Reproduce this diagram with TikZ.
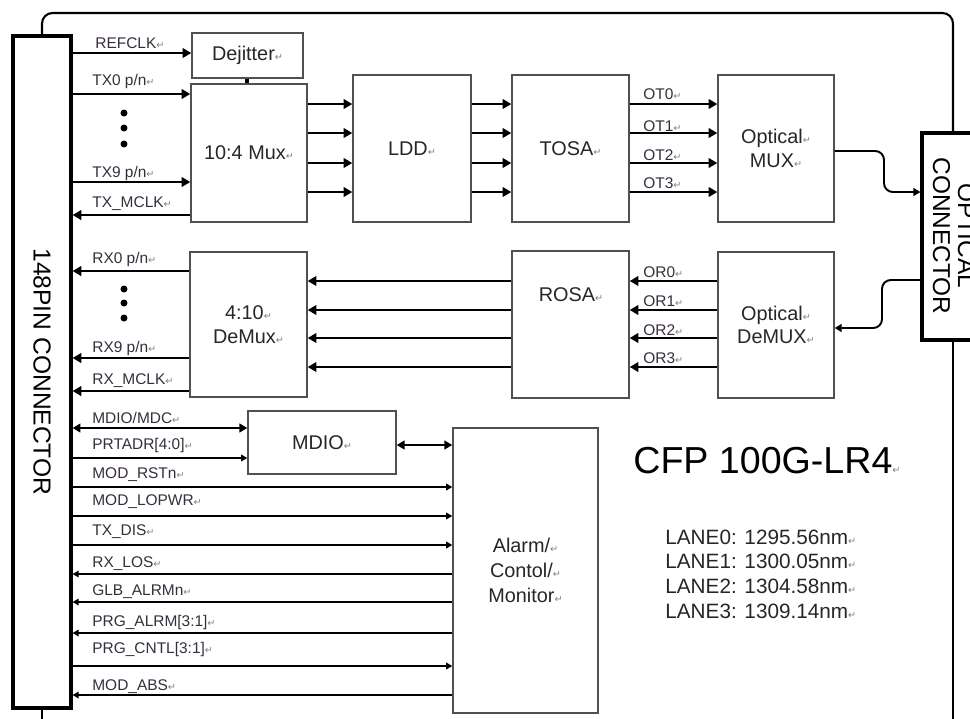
\documentclass[tikz,border=0pt]{standalone}
\usepackage{fontspec}
\setmainfont{Liberation Sans}
\newfontfamily\retfont{DejaVu Sans}
\usepackage{tikz}
\usepackage{xcolor}
\usetikzlibrary{arrows.meta,fit}
\definecolor{boxline}{RGB}{80,80,80}
\definecolor{lbltext}{RGB}{55,45,60}
\newcommand{\enter}{{\retfont\fontsize{5.5}{6}\selectfont\color{black!50}↵}}

\begin{document}
\begin{tikzpicture}[x=0.02cm,y=-0.02cm,
  blk/.style={draw=boxline,line width=0.8pt,inner sep=0pt},
  blktxt/.style={align=center,inner sep=0pt,text=black!85,font=\fontsize{11.3}{13.5}\selectfont},
  conn/.style={draw=black,line width=1.8pt,inner sep=0pt},
  lbl/.style={anchor=base west,inner sep=0pt,text=lbltext,font=\fontsize{8.8}{10}\selectfont},
  sig/.style={line width=1.5pt,-{Triangle[length=5pt,width=5.5pt]}},
  ctl/.style={line width=0.75pt,-{Triangle[length=3.5pt,width=3.8pt]}},
  bus/.style={line width=1.2pt,{Triangle[length=4.5pt,width=5pt]}-{Triangle[length=4.5pt,width=5pt]}},
  fib/.style={line width=1.1pt,rounded corners=5pt,-{Triangle[length=4pt,width=4.5pt]}}]
  \useasboundingbox (0,0) rectangle (970,718);
  \clip (0,0) rectangle (970,718);
  % 连接器
  \node[conn,fit={(13,36)(71,708)}] (pin) {};
  \node[rotate=-90,font=\fontsize{14}{16}\selectfont] (pintxt) at (pin.center) {148PIN CONNECTOR};
  \node[conn,fit={(922,133)(1010,340)}] (opt) {};
  \node[rotate=-90,align=center,font=\fontsize{13.9}{14.2}\selectfont] (opttxt) at (954,236) {OPTICAL\\CONNECTOR};
  % 外框
  \draw[line width=1.2pt,rounded corners=6pt] (pin.north -| 42,0) -- (42,13) -- (953,13) -- (opt.north -| 953,0);
  \draw[line width=1.2pt] (opt.south -| 953,0) -- (953,730);
  \draw[line width=1.2pt] (pin.south -| 42,0) -- (42,730);
  % 功能模块
  \node[blk,fit={(192,33)(303,78)}] (dej) {};
  \node[blk,fit={(191,84)(307,222)}] (mux) {};
  \node[blk,fit={(353,75)(471,222)}] (ldd) {};
  \node[blk,fit={(512,75)(629,222)}] (tosa) {};
  \node[blk,fit={(718,75)(834,222)}] (omux) {};
  \node[blk,fit={(190,252)(307,397)}] (demux) {};
  \node[blk,fit={(512,251)(629,398)}] (rosa) {};
  \node[blk,fit={(718,252)(834,398)}] (odemux) {};
  \node[blk,fit={(248,411)(396,474)}] (mdio) {};
  \node[blk,fit={(453,428)(598,713)}] (acm) {};
  \node[blktxt] (dejtxt) at (dej.center) {Dejitter\enter};
  \node[blktxt] (muxtxt) at (mux.center) {10:4 Mux\enter};
  \node[blktxt] (lddtxt) at (ldd.center) {LDD\enter};
  \node[blktxt] (tosatxt) at (tosa.center) {TOSA\enter};
  \node[blktxt] (omuxtxt) at (omux.center) {Optical\enter\\MUX\enter};
  \node[blktxt] (demuxtxt) at (demux.center) {4:10\enter\\DeMux\enter};
  \node[blktxt] (rosatxt) at (571,295) {ROSA\enter};
  \node[blktxt] (odemuxtxt) at (odemux.center) {Optical\enter\\DeMUX\enter};
  \node[blktxt] (mdiotxt) at (mdio.center) {MDIO\enter};
  \node[blktxt,font=\fontsize{11.3}{14.2}\selectfont] (acmtxt) at (acm.center) {Alarm/\enter\\Contol/\enter\\Monitor\enter};
  \draw[line width=2.2pt] (dej.south -| 247,0) -- (mux.north -| 247,0);
  % 发送通道
  \draw[sig] (pin.east |- 0,53) -- (dej.west |- 0,53);
  \foreach \y in {94,182}
    \draw[sig] (pin.east |- 0,\y) -- (mux.west |- 0,\y);
  \draw[sig] (mux.west |- 0,215) -- (pin.east |- 0,215);
  \foreach \y in {104,133,163,192} {
    \draw[sig] (mux.east |- 0,\y) -- (ldd.west |- 0,\y);
    \draw[sig] (ldd.east |- 0,\y) -- (tosa.west |- 0,\y);
    \draw[sig] (tosa.east |- 0,\y) -- (omux.west |- 0,\y);
  }
  % 接收通道
  \foreach \y in {271,358,391}
    \draw[sig] (demux.west |- 0,\y) -- (pin.east |- 0,\y);
  \foreach \y in {281,310,338,367} {
    \draw[sig] (rosa.west |- 0,\y) -- (demux.east |- 0,\y);
    \draw[sig] (odemux.west |- 0,\y) -- (rosa.east |- 0,\y);
  }
  \foreach \y in {113,128,144,289,303,318}
    \fill (124,\y) circle (3.5);
  % 光纤
  \draw[fib] (omux.east |- 0,151) -- (884,151) -- (884,192) -- (opt.west |- 0,192);
  \draw[fib] (opt.west |- 0,280) -- (882,280) -- (882,328) -- (odemux.east |- 0,328);
  % 管理接口
  \draw[bus] (pin.east |- 0,428) -- (mdio.west |- 0,428);
  \draw[ctl] (pin.east |- 0,458) -- (mdio.west |- 0,458);
  \draw[bus] (mdio.east |- 0,445) -- (acm.west |- 0,445);
  \foreach \y in {487,516,545,666}
    \draw[ctl] (pin.east |- 0,\y) -- (acm.west |- 0,\y);
  \foreach \y in {574,602,633,695}
    \draw[ctl] (acm.west |- 0,\y) -- (pin.east |- 0,\y);
  % 标注
  \node[lbl] (refclk) at (95,48) {REFCLK\enter};
  \node[lbl] (tx0) at (92,85) {TX0 p/n\enter};
  \node[lbl] (tx9) at (92,177) {TX9 p/n\enter};
  \node[lbl] (txclk) at (92,207) {TX\_MCLK\enter};
  \node[lbl] (rx0) at (92,263) {RX0 p/n\enter};
  \node[lbl] (rx9) at (92,352) {RX9 p/n\enter};
  \node[lbl] (rxclk) at (92,384) {RX\_MCLK\enter};
  \foreach \i/\y in {0/99,1/131,2/160,3/188}
    \node[lbl] (ot\i) at (643,\y) {OT\i\enter};
  \foreach \i/\y in {0/277,1/306,2/335,3/363}
    \node[lbl] (or\i) at (643,\y) {OR\i\enter};
  \foreach \n/\y/\t in {mdc/423/{MDIO/MDC},adr/449/{PRTADR[4:0]},rst/478/{MOD\_RSTn},
      lopwr/505/{MOD\_LOPWR},txdis/535/{TX\_DIS},los/567/{RX\_LOS},glb/595/{GLB\_ALRMn},
      palrm/626/{PRG\_ALRM[3:1]},pcntl/653/{PRG\_CNTL[3:1]},abs/690/{MOD\_ABS}}
    \node[lbl] (\n) at (92,\y) {\t\enter};
  \node[anchor=base west,inner sep=0pt,font=\fontsize{21.4}{24}\selectfont] (title) at (633,473) {CFP 100G-LR4\enter};
  \foreach \i/\w in {0/1295.56,1/1300.05,2/1304.58,3/1309.14}
    \node[anchor=base west,inner sep=0pt,text=black!85,font=\fontsize{11.8}{14}\selectfont] (lane\i) at (665,{544+24.7*\i}) {LANE\i: \w nm\enter};
\end{tikzpicture}
\end{document}
